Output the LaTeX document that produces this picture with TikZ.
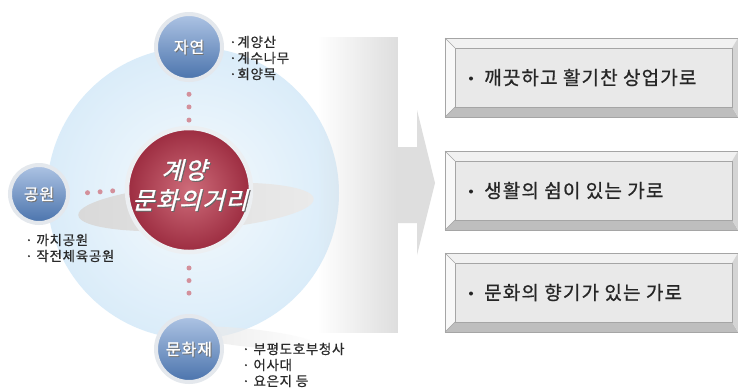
\documentclass[tikz,border=0pt]{standalone}
\usepackage{fontspec}
\setmainfont{Noto Sans CJK KR}
\newfontfamily\krlab[LetterSpace=5,FakeBold=0.6]{Noto Sans CJK KR}
\newfontfamily\krsat[LetterSpace=6,FakeBold=1]{Noto Sans CJK KR}
\newfontfamily\krctr[FakeSlant=0.25,FakeBold=1.2,LetterSpace=5]{Noto Sans CJK KR}
\newfontfamily\krbox[LetterSpace=6,FakeBold=0.8]{Noto Sans CJK KR}
\usetikzlibrary{fadings,calc}
\definecolor{bgin}{HTML}{F5FAFD}
\definecolor{bgout}{HTML}{DAECF9}
\definecolor{ringgray}{HTML}{E4E8ED}
\definecolor{bluetop}{HTML}{AEC4E4}
\definecolor{bluebot}{HTML}{4A73AC}
\definecolor{redin}{HTML}{CE6C7A}
\definecolor{redout}{HTML}{9C2C40}
\definecolor{dotcol}{HTML}{D3909B}
\definecolor{arrowgray}{HTML}{DEDEDE}
\definecolor{swl}{HTML}{D9D9D9}
\definecolor{swr}{HTML}{EAEAEA}
\definecolor{facegray}{HTML}{E9E9E9}
\definecolor{topbev}{HTML}{F1F1F1}
\definecolor{leftbev}{HTML}{F8F8F8}
\definecolor{botbev}{HTML}{BEBEBE}
\definecolor{rightbev}{HTML}{D4D4D4}
\definecolor{edgegray}{HTML}{A5A5A5}
\definecolor{labtxt}{HTML}{2A2A2A}
\begin{document}
\begin{tikzpicture}[x=1pt,y=-1pt,
  sat/.style={circle, minimum size=66pt, draw=ringgray, line width=4pt,
    top color=bluetop, bottom color=bluebot, inner sep=0pt},
  sattxt/.style={text=white, font=\krsat\fontsize{16}{18}\selectfont, inner sep=0pt},
  satshadow/.style={text=black!55, font=\krsat\fontsize{16}{18}\selectfont, inner sep=0pt},
  ctrtxt/.style={text=white, font=\krctr\fontsize{24}{26}\selectfont, inner sep=0pt},
  ctrshadow/.style={text=black!60, font=\krctr\fontsize{24}{26}\selectfont, inner sep=0pt},
  lab/.style={text=labtxt, font=\krlab\fontsize{13.5}{15}\selectfont, inner sep=0pt, anchor=west},
  dot/.style={circle, fill=dotcol, minimum size=5pt, inner sep=0pt},
  face/.style={rectangle, minimum width=277pt, minimum height=59pt, fill=facegray,
    draw=edgegray, line width=0.6pt, inner sep=0pt, outer sep=0pt},
  boxtxt/.style={text=black!85, font=\krbox\fontsize{19}{21}\selectfont, inner sep=0pt, anchor=west}
]
\useasboundingbox (0,0) rectangle (738,389);
\fill[white] (0,0) rectangle (738,389);
% background circle
\shade[inner color=bgin, outer color=bgout] (193,193) circle (146);
% big arrow
\fill[arrowgray, path fading=west] (318,37) rectangle (398,333);
\fill[arrowgray] (397,147) -- (417,147) -- (417,110) -- (435,183) -- (417,255) -- (417,223) -- (397,223) -- cycle;
% swooshes
\shade[left color=swl, right color=swr, rotate around={4:(196,207)}] (196,207) ellipse (118 and 23);
\fill[swr, path fading=east, rotate around={-6:(250,338)}] (250,338) ellipse (68 and 9);
% centre circle
\node[circle, minimum size=124pt, draw=ringgray!70, line width=4.5pt,
  inner color=redin, outer color=redout, inner sep=0pt] (ctr) at (189,190) {};
\node[ctrshadow] (ct1s) at (185,171) {계양};
\node[ctrtxt] (ct1) at (184,170) {계양};
\node[ctrshadow] (ct2s) at (191,201) {문화의거리};
\node[ctrtxt] (ct2) at (190,200) {문화의거리};
% satellites
\node[sat] (jy) at (189,47) {};
\node[satshadow] (jyts) at (190,48) {자연};
\node[sattxt] (jyt) at (189,47) {자연};
\node[sat, minimum size=58pt] (gw) at (39,194) {};
\node[satshadow] (gwts) at (40,195) {공원};
\node[sattxt] (gwt) at (39,194) {공원};
\node[sat] (mh) at (189,349) {};
\node[satshadow] (mhts) at (190,350) {문화재};
\node[sattxt] (mht) at (189,349) {문화재};
% dotted connectors
\path (jy.south) -- (ctr.north) node[dot, pos=0.28] (d1) {} node[dot, pos=0.57] (d2) {} node[dot, pos=0.87] (d3) {};
\path (gw.east) -- (ctr.west) node[dot, pos=0.32] (d4) {} node[dot, pos=0.55] (d5) {} node[dot, pos=0.78] (d6) {};
\path (ctr.south) -- (mh.north) node[dot, pos=0.23] (d7) {} node[dot, pos=0.44] (d8) {} node[dot, pos=0.65] (d9) {};
% labels
\node[lab] (l1) at (229,42) {·계양산};
\node[lab] (l2) at (229,58) {·계수나무};
\node[lab] (l3) at (229,74) {·회양목};
\node[lab] (l4) at (25,240) {· 까치공원};
\node[lab] (l5) at (25,256) {· 작전체육공원};
\node[lab] (l6) at (242,349) {· 부평도호부청사};
\node[lab] (l7) at (242,365) {· 어사대};
\node[lab] (l8) at (242,381) {· 요은지 등};
% bevelled boxes
\foreach \i/\t/\txt in {1/38/깨끗하고 활기찬 상업가로, 2/151/생활의 쉼이 있는 가로, 3/253/문화의 향기가 있는 가로}{
  \node[face] (b\i) at (593.5,\t+39.5) {};
  \fill[topbev] ($(b\i.north west)+(-10,-10)$) -- ($(b\i.north east)+(6,-10)$) -- (b\i.north east) -- (b\i.north west) -- cycle;
  \fill[leftbev] ($(b\i.north west)+(-10,-10)$) -- (b\i.north west) -- (b\i.south west) -- ($(b\i.south west)+(-10,10)$) -- cycle;
  \fill[botbev] ($(b\i.south west)+(-10,10)$) -- (b\i.south west) -- (b\i.south east) -- ($(b\i.south east)+(6,10)$) -- cycle;
  \fill[rightbev] ($(b\i.north east)+(6,-10)$) -- (b\i.north east) -- (b\i.south east) -- ($(b\i.south east)+(6,10)$) -- cycle;
  \draw[edgegray, line width=0.6pt] ($(b\i.north west)+(-10,-10)$) rectangle ($(b\i.south east)+(6,10)$);
  \draw[edgegray, line width=0.5pt] ($(b\i.north west)+(-10,-10)$) -- (b\i.north west);
  \draw[edgegray, line width=0.5pt] ($(b\i.south west)+(-10,10)$) -- (b\i.south west);
  \draw[edgegray, line width=0.6pt] (b\i.north west) rectangle (b\i.south east);
  \node[circle, fill=black!85, minimum size=4pt, inner sep=0pt] (bb\i) at ($(b\i.west)+(16,1)$) {};
  \node[boxtxt] (bt\i) at ($(b\i.west)+(29,0)$) {\txt};
}
\end{tikzpicture}
\end{document}
